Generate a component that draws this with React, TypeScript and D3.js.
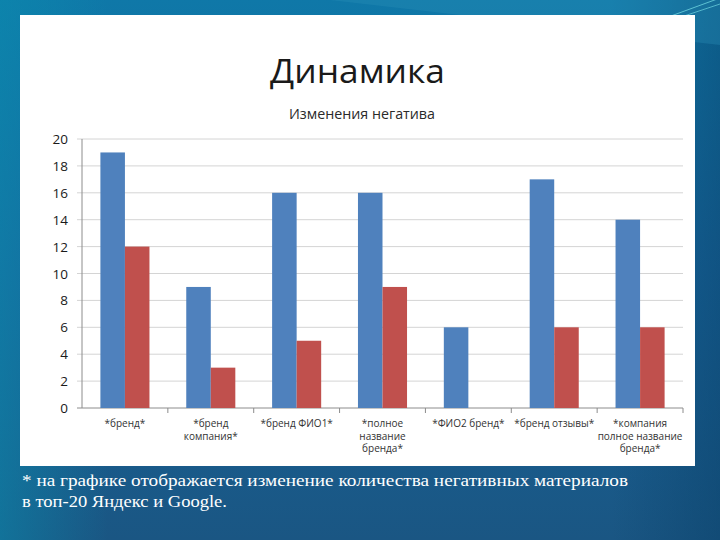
import React from "react";
import * as d3 from "d3";

const categories = [
  ["*бренд*"],
  ["*бренд", "компания*"],
  ["*бренд ФИО1*"],
  ["*полное", "название", "бренда*"],
  ["*ФИО2 бренд*"],
  ["*бренд отзывы*"],
  ["*компания", "полное название", "бренда*"],
];
const seriesBefore = [19, 9, 16, 16, 6, 17, 14];
const seriesAfter: (number | null)[] = [12, 3, 5, 9, null, 6, 6];
const yTicks = [0, 2, 4, 6, 8, 10, 12, 14, 16, 18, 20];
const title = "Динамика";
const subtitle = "Изменения негатива";
const footnote = [
  "* на графике отображается изменение количества негативных материалов",
  "в топ-20 Яндекс и Google.",
];

export default function App() {
  const W = 720, H = 540;
  const left = 82, right = 683, top = 139, bottom = 408;
  const x = d3.scaleBand<number>().domain(d3.range(categories.length)).range([left, right]);
  const y = d3.scaleLinear().domain([0, 20]).range([bottom, top]);
  const bw = x.bandwidth();
  const barW = bw / 3.5;
  const sans = "'Open Sans', 'Noto Sans', sans-serif";
  const footLens = [606, 205];
  return (
    <div style={{ position: "fixed", left: 0, top: 0 }}>
      <svg width={W} height={H} style={{ display: "block" }}>
        <defs>
          <linearGradient id="bg" x1="0" y1="0" x2="0" y2="1">
            <stop offset="0" stopColor="#0f78a8" />
            <stop offset="0.5" stopColor="#17649a" />
            <stop offset="1" stopColor="#1a5683" />
          </linearGradient>
          <linearGradient id="side" x1="0" y1="0" x2="1" y2="0">
            <stop offset="0" stopColor="#0a8fb0" stopOpacity={0.5} />
            <stop offset="0.15" stopColor="#0a8fb0" stopOpacity={0} />
            <stop offset="0.85" stopColor="#083e66" stopOpacity={0} />
            <stop offset="1" stopColor="#083e66" stopOpacity={0.45} />
          </linearGradient>
        </defs>
        <rect width={W} height={H} fill="url(#bg)" />
        <rect width={W} height={H} fill="url(#side)" />
        <path d="M330,0 L720,0 L720,45 Z" fill="#2a8fb8" opacity={0.35} />
        <line x1={660} y1={20} x2={720} y2={-2} stroke="#6fd6e0" strokeWidth={1} opacity={0.8} />
        <line x1={672} y1={20} x2={720} y2={4} stroke="#6fd6e0" strokeWidth={1} opacity={0.7} />
        <rect x={20} y={15} width={675} height={451} fill="#ffffff" />
        <text x={270} y={83} textLength={175} lengthAdjust="spacingAndGlyphs" fontFamily={sans} fontSize={32} fill="#1a1a1a">{title}</text>
        <text x={289} y={119} textLength={146} lengthAdjust="spacingAndGlyphs" fontFamily={sans} fontSize={14} fill="#2a2a2a">{subtitle}</text>
        {yTicks.map((t) => (
          <g key={t}>
            <line x1={left - 5} x2={right} y1={y(t)} y2={y(t)} stroke={t === 0 ? "#8c8c8c" : "#d4d4d4"} strokeWidth={1} />
            <text x={68} y={y(t) + 5} textAnchor="end" fontFamily={sans} fontSize={13.5} fill="#1a1a1a">{t}</text>
          </g>
        ))}
        <line x1={left} x2={left} y1={top} y2={bottom} stroke="#8c8c8c" />
        {categories.map((c, i) => (
          <line key={"tk" + i} x1={(x(i) as number) + bw} x2={(x(i) as number) + bw} y1={bottom} y2={bottom + 5} stroke="#8c8c8c" />
        ))}
        {seriesBefore.map((v, i) => (
          <rect key={"b" + i} x={(x(i) as number) + bw / 2 - barW} y={y(v)} width={barW} height={bottom - y(v)} fill="#4f81bd" />
        ))}
        {seriesAfter.map((v, i) =>
          v == null ? null : (
            <rect key={"r" + i} x={(x(i) as number) + bw / 2} y={y(v)} width={barW} height={bottom - y(v)} fill="#c0504d" />
          )
        )}
        {categories.map((lines, i) => (
          <text key={"c" + i} textAnchor="middle" fontFamily={sans} fontSize={10} fill="#333">
            {lines.map((l, j) => (
              <tspan key={j} x={(x(i) as number) + bw / 2} y={427 + j * 12.5}>{l}</tspan>
            ))}
          </text>
        ))}
        {footnote.map((l, j) => (
          <text key={"f" + j} x={22} y={486 + j * 21} textLength={footLens[j]} lengthAdjust="spacingAndGlyphs" fontFamily="'Liberation Serif', serif" fontSize={17} fill="#ffffff">{l}</text>
        ))}
      </svg>
    </div>
  );
}
